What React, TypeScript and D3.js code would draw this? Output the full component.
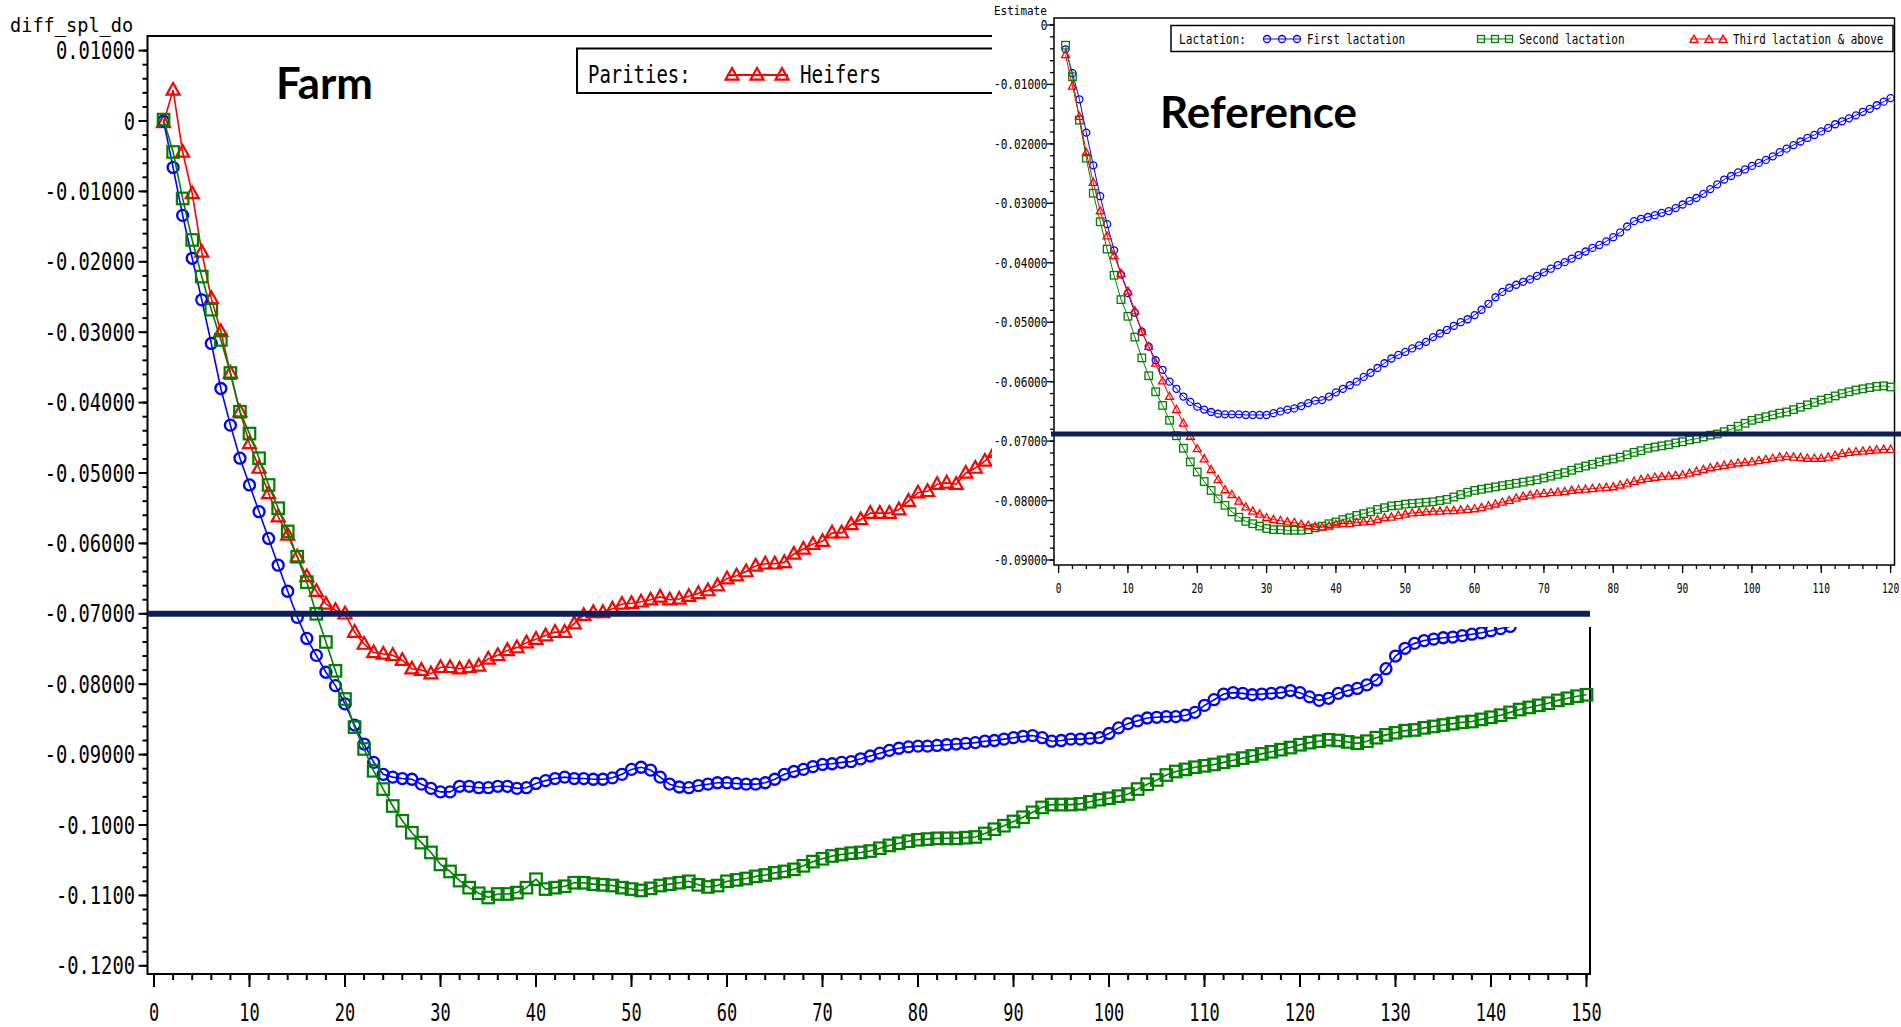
import React from "react";
import * as d3 from "d3";

// ---------- axis ticks / labels ----------
const FARM_Y_TICKS = [0.01, 0, -0.01, -0.02, -0.03, -0.04, -0.05, -0.06, -0.07, -0.08, -0.09, -0.1, -0.11, -0.12];
const FARM_Y_LABELS = ["0.01000", "0", "-0.01000", "-0.02000", "-0.03000", "-0.04000", "-0.05000", "-0.06000", "-0.07000", "-0.08000", "-0.09000", "-0.1000", "-0.1100", "-0.1200"];
const FARM_X_TICKS = [0, 10, 20, 30, 40, 50, 60, 70, 80, 90, 100, 110, 120, 130, 140, 150];
const REF_Y_TICKS = [0, -0.01, -0.02, -0.03, -0.04, -0.05, -0.06, -0.07, -0.08, -0.09];
const REF_Y_LABELS = ["0", "-0.01000", "-0.02000", "-0.03000", "-0.04000", "-0.05000", "-0.06000", "-0.07000", "-0.08000", "-0.09000"];
const REF_X_TICKS = [0, 10, 20, 30, 40, 50, 60, 70, 80, 90, 100, 110, 120];

const FARM_Y_TITLE = "diff_spl_do";
const REF_Y_TITLE = "Estimate";
const FARM_LEGEND_TITLE = "Parities:";
const FARM_LEGEND_ITEMS = ["Heifers"];
const REF_LEGEND_TITLE = "Lactation:";
const REF_LEGEND_ITEMS = ["First lactation", "Second lactation", "Third lactation & above"];

// annotation lines
const FARM_CUTOFF = -0.07;
const REF_CUTOFF = -0.0688;

// ---------- Farm series (day 1..n) ----------
const farmHeifers = [
  -0.0002, 0.0044, -0.0044, -0.0103, -0.0186, -0.0252, -0.0299, -0.0358, -0.0413, -0.0458,
  -0.0493, -0.0529, -0.0562, -0.0588, -0.0619, -0.0647, -0.0668, -0.0686, -0.0695, -0.0700,
  -0.0726, -0.0743, -0.0755, -0.0757, -0.0759, -0.0766, -0.0778, -0.0780, -0.0785, -0.0776,
  -0.0776, -0.0778, -0.0776, -0.0774, -0.0764, -0.0759, -0.0752, -0.0748, -0.0741, -0.0736,
  -0.0731, -0.0726, -0.0726, -0.0714, -0.0702, -0.0698, -0.0698, -0.0693, -0.0686, -0.0685,
  -0.0683, -0.0680, -0.0676, -0.0680, -0.0679, -0.0675, -0.0671, -0.0667, -0.0660, -0.0650,
  -0.0646, -0.0640, -0.0632, -0.0629, -0.0629, -0.0627, -0.0615, -0.0608, -0.0601, -0.0597,
  -0.0585, -0.0585, -0.0573, -0.0566, -0.0557, -0.0557, -0.0557, -0.0552, -0.0540, -0.0528,
  -0.0526, -0.0516, -0.0514, -0.0516, -0.0500, -0.0493, -0.0483, -0.0471,
];

const farmCircles = [
  0.0000, -0.0066, -0.0134, -0.0195, -0.0254, -0.0316, -0.0380, -0.0432, -0.0479, -0.0517,
  -0.0555, -0.0593, -0.0631, -0.0668, -0.0705, -0.0735, -0.0759, -0.0783, -0.0802, -0.0828,
  -0.0858, -0.0885, -0.0911, -0.0928, -0.0932, -0.0934, -0.0935, -0.0942, -0.0948, -0.0953,
  -0.0953, -0.0945, -0.0945, -0.0947, -0.0947, -0.0945, -0.0945, -0.0948, -0.0947, -0.0941,
  -0.0937, -0.0934, -0.0932, -0.0934, -0.0934, -0.0935, -0.0935, -0.0933, -0.0928, -0.0921,
  -0.0918, -0.0922, -0.0932, -0.0942, -0.0946, -0.0947, -0.0944, -0.0942, -0.0940, -0.0940,
  -0.0941, -0.0942, -0.0942, -0.0940, -0.0935, -0.0928, -0.0924, -0.0921, -0.0917, -0.0914,
  -0.0913, -0.0911, -0.0910, -0.0906, -0.0902, -0.0898, -0.0894, -0.0891, -0.0889, -0.0888,
  -0.0888, -0.0887, -0.0886, -0.0885, -0.0884, -0.0883, -0.0881, -0.0880, -0.0878, -0.0876,
  -0.0874, -0.0873, -0.0876, -0.0881, -0.0880, -0.0878, -0.0878, -0.0877, -0.0876, -0.0870,
  -0.0862, -0.0856, -0.0852, -0.0848, -0.0847, -0.0846, -0.0846, -0.0844, -0.0840, -0.0830,
  -0.0822, -0.0814, -0.0812, -0.0813, -0.0815, -0.0814, -0.0813, -0.0812, -0.0809, -0.0812,
  -0.0818, -0.0823, -0.0820, -0.0813, -0.0809, -0.0806, -0.0801, -0.0794, -0.0778, -0.0760,
  -0.0749, -0.0742, -0.0738, -0.0736, -0.0734, -0.0733, -0.0731, -0.0729, -0.0727, -0.0724,
  -0.0721, -0.0718,
];

const farmSquares = [
  0.0002, -0.0044, -0.0110, -0.0169, -0.0221, -0.0268, -0.0311, -0.0358, -0.0413, -0.0444,
  -0.0479, -0.0517, -0.0550, -0.0583, -0.0619, -0.0655, -0.0700, -0.0740, -0.0781, -0.0821,
  -0.0861, -0.0892, -0.0923, -0.0949, -0.0973, -0.0994, -0.1011, -0.1025, -0.1039, -0.1056,
  -0.1066, -0.1079, -0.1089, -0.1097, -0.1103, -0.1098, -0.1098, -0.1096, -0.1089, -0.1077,
  -0.1091, -0.1089, -0.1087, -0.1082, -0.1082, -0.1084, -0.1085, -0.1086, -0.1089, -0.1091,
  -0.1093, -0.1090, -0.1086, -0.1084, -0.1082, -0.1080, -0.1085, -0.1088, -0.1086, -0.1080,
  -0.1078, -0.1076, -0.1073, -0.1071, -0.1068, -0.1066, -0.1063, -0.1058, -0.1052, -0.1048,
  -0.1044, -0.1042, -0.1040, -0.1039, -0.1037, -0.1033, -0.1029, -0.1026, -0.1023, -0.1021,
  -0.1020, -0.1019, -0.1019, -0.1019, -0.1018, -0.1017, -0.1012, -0.1006, -0.1001, -0.0995,
  -0.0989, -0.0982, -0.0975, -0.0971, -0.0971, -0.0971, -0.0970, -0.0967, -0.0964, -0.0962,
  -0.0959, -0.0956, -0.0949, -0.0942, -0.0936, -0.0929, -0.0924, -0.0921, -0.0918, -0.0916,
  -0.0914, -0.0911, -0.0908, -0.0905, -0.0902, -0.0899, -0.0896, -0.0893, -0.0890, -0.0886,
  -0.0883, -0.0881, -0.0879, -0.0880, -0.0882, -0.0884, -0.0881, -0.0876, -0.0872, -0.0869,
  -0.0866, -0.0865, -0.0862, -0.0860, -0.0858, -0.0856, -0.0854, -0.0853, -0.0850, -0.0847,
  -0.0844, -0.0840, -0.0836, -0.0833, -0.0830, -0.0827, -0.0823, -0.0820, -0.0817, -0.0815,
];

// ---------- Reference series (day 1..120) ----------
const refFirst = [
  -0.0041, -0.0081, -0.0125, -0.0181, -0.0236, -0.0288, -0.0335, -0.0379, -0.0420, -0.0451,
  -0.0484, -0.0516, -0.0541, -0.0564, -0.0580, -0.0600, -0.0612, -0.0625, -0.0634, -0.0642,
  -0.0647, -0.0651, -0.0654, -0.0655, -0.0655, -0.0655, -0.0656, -0.0656, -0.0656, -0.0656,
  -0.0653, -0.0650, -0.0647, -0.0645, -0.0641, -0.0636, -0.0632, -0.0631, -0.0625, -0.0618,
  -0.0612, -0.0606, -0.0600, -0.0592, -0.0585, -0.0577, -0.0569, -0.0561, -0.0555, -0.0550,
  -0.0544, -0.0539, -0.0533, -0.0525, -0.0519, -0.0513, -0.0506, -0.0500, -0.0495, -0.0488,
  -0.0479, -0.0469, -0.0458, -0.0449, -0.0442, -0.0437, -0.0432, -0.0428, -0.0422, -0.0416,
  -0.0410, -0.0404, -0.0399, -0.0393, -0.0387, -0.0381, -0.0375, -0.0370, -0.0364, -0.0357,
  -0.0349, -0.0339, -0.0330, -0.0326, -0.0323, -0.0320, -0.0316, -0.0313, -0.0308, -0.0302,
  -0.0296, -0.0291, -0.0284, -0.0276, -0.0268, -0.0260, -0.0254, -0.0248, -0.0243, -0.0237,
  -0.0232, -0.0227, -0.0221, -0.0214, -0.0208, -0.0202, -0.0196, -0.0190, -0.0185, -0.0179,
  -0.0173, -0.0167, -0.0162, -0.0157, -0.0152, -0.0146, -0.0141, -0.0135, -0.0129, -0.0123,
];

const refSecond = [
  -0.0034, -0.0087, -0.0160, -0.0224, -0.0283, -0.0331, -0.0377, -0.0421, -0.0462, -0.0490,
  -0.0525, -0.0560, -0.0590, -0.0617, -0.0640, -0.0665, -0.0691, -0.0712, -0.0735, -0.0752,
  -0.0768, -0.0783, -0.0797, -0.0808, -0.0819, -0.0828, -0.0835, -0.0839, -0.0843, -0.0847,
  -0.0849, -0.0849, -0.0850, -0.0850, -0.0850, -0.0849, -0.0846, -0.0843, -0.0839, -0.0836,
  -0.0832, -0.0829, -0.0825, -0.0822, -0.0819, -0.0815, -0.0812, -0.0809, -0.0808, -0.0806,
  -0.0805, -0.0804, -0.0803, -0.0802, -0.0800, -0.0798, -0.0794, -0.0790, -0.0786, -0.0783,
  -0.0781, -0.0779, -0.0777, -0.0775, -0.0773, -0.0771, -0.0769, -0.0767, -0.0765, -0.0762,
  -0.0759, -0.0756, -0.0753, -0.0749, -0.0745, -0.0742, -0.0739, -0.0735, -0.0732, -0.0730,
  -0.0727, -0.0723, -0.0719, -0.0716, -0.0712, -0.0710, -0.0708, -0.0706, -0.0703, -0.0701,
  -0.0698, -0.0696, -0.0693, -0.0690, -0.0688, -0.0684, -0.0680, -0.0675, -0.0670, -0.0665,
  -0.0662, -0.0659, -0.0656, -0.0653, -0.0651, -0.0647, -0.0643, -0.0639, -0.0635, -0.0631,
  -0.0628, -0.0624, -0.0620, -0.0617, -0.0614, -0.0612, -0.0610, -0.0608, -0.0607, -0.0609,
];

const refThird = [
  -0.0050, -0.0103, -0.0154, -0.0215, -0.0265, -0.0313, -0.0355, -0.0388, -0.0418, -0.0448,
  -0.0481, -0.0516, -0.0541, -0.0569, -0.0599, -0.0625, -0.0647, -0.0670, -0.0692, -0.0713,
  -0.0730, -0.0748, -0.0765, -0.0782, -0.0790, -0.0801, -0.0811, -0.0818, -0.0823, -0.0829,
  -0.0832, -0.0834, -0.0836, -0.0837, -0.0840, -0.0842, -0.0844, -0.0845, -0.0843, -0.0840,
  -0.0839, -0.0839, -0.0837, -0.0836, -0.0835, -0.0832, -0.0829, -0.0828, -0.0825, -0.0823,
  -0.0821, -0.0820, -0.0819, -0.0818, -0.0818, -0.0817, -0.0817, -0.0816, -0.0815, -0.0814,
  -0.0812, -0.0809, -0.0806, -0.0803, -0.0800, -0.0796, -0.0793, -0.0791, -0.0789, -0.0788,
  -0.0787, -0.0786, -0.0785, -0.0783, -0.0782, -0.0781, -0.0780, -0.0779, -0.0778, -0.0777,
  -0.0774, -0.0771, -0.0768, -0.0765, -0.0763, -0.0761, -0.0760, -0.0759, -0.0758, -0.0757,
  -0.0754, -0.0751, -0.0748, -0.0745, -0.0743, -0.0741, -0.0739, -0.0737, -0.0736, -0.0735,
  -0.0733, -0.0731, -0.0729, -0.0727, -0.0726, -0.0727, -0.0728, -0.0729, -0.0729, -0.0729,
  -0.0727, -0.0724, -0.0721, -0.0719, -0.0718, -0.0717, -0.0716, -0.0715, -0.0714, -0.0714,
];

const BLUE = "#0000ff";
const GREEN = "#008000";
const RED = "#ff0000";
const NAVY = "#0c1f58";
const SAS_FONT = "'DejaVu Sans Mono', monospace";
const BOLD_FONT = "Lato, 'Open Sans', sans-serif";
const MONO_ADV = 0.602; // DejaVu Sans Mono advance width per em

type Shape = "circle" | "square" | "triangle";

function Marker({ shape, x, y, s, color, sw }: { shape: Shape; x: number; y: number; s: number; color: string; sw: number }) {
  if (shape === "circle") return <circle cx={x} cy={y} r={s / 2} fill="none" stroke={color} strokeWidth={sw} />;
  if (shape === "square") return <rect x={x - s / 2} y={y - s / 2} width={s} height={s} fill="none" stroke={color} strokeWidth={sw} />;
  const h = s * 0.9;
  return (
    <path
      d={`M${x},${y - h * 0.6}L${x + s / 2},${y + h * 0.4}L${x - s / 2},${y + h * 0.4}Z`}
      fill="none"
      stroke={color}
      strokeWidth={sw}
    />
  );
}

function Series({ values, sx, sy, shape, color, size, sw, lw }: any) {
  const pts: [number, number][] = values.map((v: number, i: number) => [sx(i + 1), sy(v)]);
  const line = d3.line();
  return (
    <g>
      <path d={line(pts) || ""} fill="none" stroke={color} strokeWidth={lw} />
      {pts.map((p, i) => (
        <Marker key={i} shape={shape} x={p[0]} y={p[1]} s={size} color={color} sw={sw} />
      ))}
    </g>
  );
}

// narrow "SAS-like" text: monospace font squeezed horizontally
function SasText({ x, y, text, size, glyph, anchor = "start", fill = "#000" }: any) {
  const sx = glyph / (MONO_ADV * size);
  return (
    <text
      transform={`translate(${x},${y}) scale(${sx},1)`}
      fontFamily={SAS_FONT}
      fontSize={size}
      textAnchor={anchor}
      fill={fill}
    >
      {text}
    </text>
  );
}

export default function App() {
  // Farm chart scales
  const fx = d3.scaleLinear().domain([0, 150]).range([154, 1586.5]);
  const fy = d3.scaleLinear().domain([0, -0.12]).range([121, 965.8]);
  const F = { left: 147.5, right: 1590, top: 36, bottom: 974 };

  // Reference chart scales
  const rx = d3.scaleLinear().domain([0, 120]).range([1058.6, 1890.6]);
  const ry = d3.scaleLinear().domain([0, -0.09]).range([25, 560]);
  const R = { left: 1054, right: 1894.5, top: 18, bottom: 565 };

  const farmMinorY = d3.range(0, 67).map((i) => 0.01 - i * 0.002).filter((v) => v >= -0.1201);
  const farmMinorX = d3.range(0, 151, 2);
  const refMinorY = d3.range(0, 46).map((i) => -i * 0.002).filter((v) => v >= -0.0901);
  const refMinorX = d3.range(0, 121, 2);

  return (
    <div style={{ position: "absolute", left: 0, top: 0, width: 1901, height: 1027, overflow: "hidden", background: "#fff" }}>
      <svg width={1901} height={1027} style={{ display: "block" }}>
        <rect x={0} y={0} width={1901} height={1027} fill="#fff" />

        {/* ================= FARM CHART ================= */}
        <g>
          <rect x={F.left} y={F.top} width={F.right - F.left} height={F.bottom - F.top} fill="none" stroke="#000" strokeWidth={2} />
          {farmMinorY.map((v, i) => (
            <line key={"fmy" + i} x1={F.left - 5} x2={F.left} y1={fy(v)} y2={fy(v)} stroke="#000" strokeWidth={2} />
          ))}
          {FARM_Y_TICKS.map((v, i) => (
            <g key={"fy" + i}>
              <line x1={F.left - 9} x2={F.left} y1={fy(v)} y2={fy(v)} stroke="#000" strokeWidth={2} />
              <SasText x={135} y={fy(v) + 8.5} text={FARM_Y_LABELS[i]} size={24} glyph={11.3} anchor="end" />
            </g>
          ))}
          {farmMinorX.map((v, i) => (
            <line key={"fmx" + i} x1={fx(v)} x2={fx(v)} y1={F.bottom} y2={F.bottom + 6} stroke="#000" strokeWidth={2} />
          ))}
          {FARM_X_TICKS.map((v, i) => (
            <g key={"fx" + i}>
              <line x1={fx(v)} x2={fx(v)} y1={F.bottom} y2={F.bottom + 13} stroke="#000" strokeWidth={2} />
              <SasText x={fx(v)} y={1021} text={String(v)} size={24} glyph={10.2} anchor="middle" />
            </g>
          ))}
          <SasText x={10} y={32} text={FARM_Y_TITLE} size={19} glyph={11.2} />

          {/* legend */}
          <rect x={577} y={48.5} width={440} height={44.5} fill="#fff" stroke="#000" strokeWidth={2} />
          <SasText x={588} y={83} text={FARM_LEGEND_TITLE} size={24} glyph={11.4} />
          <line x1={727} x2={788} y1={75} y2={75} stroke={RED} strokeWidth={1.8} />
          {[732, 757, 782].map((x, i) => (
            <Marker key={"flm" + i} shape="triangle" x={x} y={75} s={13} color={RED} sw={2.2} />
          ))}
          <SasText x={800} y={83} text={FARM_LEGEND_ITEMS[0]} size={24} glyph={11.6} />

          {/* series */}
          <Series values={farmHeifers} sx={fx} sy={fy} shape="triangle" color={RED} size={13} sw={2.2} lw={1.6} />
          <Series values={farmCircles} sx={fx} sy={fy} shape="circle" color={BLUE} size={11} sw={2.3} lw={1.6} />
          <Series values={farmSquares} sx={fx} sy={fy} shape="square" color={GREEN} size={11.5} sw={2.2} lw={1.6} />

          <text x={276} y={99} fontFamily={BOLD_FONT} fontWeight={700} fontSize={44} textLength={97} lengthAdjust="spacingAndGlyphs">
            Farm
          </text>
        </g>

        {/* ================= REFERENCE CHART (inset) ================= */}
        <g>
          <rect x={992} y={0} width={909} height={627} fill="#fff" />
          <rect x={R.left} y={R.top} width={R.right - R.left} height={R.bottom - R.top} fill="none" stroke="#000" strokeWidth={1.5} />
          {refMinorY.map((v, i) => (
            <line key={"rmy" + i} x1={R.left - 4} x2={R.left} y1={ry(v)} y2={ry(v)} stroke="#000" strokeWidth={1.3} />
          ))}
          {REF_Y_TICKS.map((v, i) => (
            <g key={"ry" + i}>
              <line x1={R.left - 7} x2={R.left} y1={ry(v)} y2={ry(v)} stroke="#000" strokeWidth={1.3} />
              <SasText x={1047.5} y={ry(v) + 5} text={REF_Y_LABELS[i]} size={14} glyph={6.7} anchor="end" />
            </g>
          ))}
          {refMinorX.map((v, i) => (
            <line key={"rmx" + i} x1={rx(v)} x2={rx(v)} y1={R.bottom} y2={R.bottom + 4} stroke="#000" strokeWidth={1.3} />
          ))}
          {REF_X_TICKS.map((v, i) => (
            <g key={"rx" + i}>
              <line x1={rx(v)} x2={rx(v)} y1={R.bottom} y2={R.bottom + 8} stroke="#000" strokeWidth={1.3} />
              <SasText x={rx(v)} y={593} text={String(v)} size={14} glyph={5.8} anchor="middle" />
            </g>
          ))}
          <SasText x={994} y={15} text={REF_Y_TITLE} size={13} glyph={6.6} />

          {/* legend */}
          <rect x={1171} y={25.5} width={722} height={26} fill="#fff" stroke="#000" strokeWidth={1.5} />
          <SasText x={1179} y={43.5} text={REF_LEGEND_TITLE} size={14} glyph={6.7} />
          <line x1={1263} x2={1301} y1={39} y2={39} stroke={BLUE} strokeWidth={1} />
          {[1267, 1282, 1297].map((x, i) => (
            <Marker key={"rl1" + i} shape="circle" x={x} y={39} s={7} color={BLUE} sw={1.3} />
          ))}
          <SasText x={1307} y={43.5} text={REF_LEGEND_ITEMS[0]} size={14} glyph={6.55} />
          <line x1={1477} x2={1512} y1={39} y2={39} stroke={GREEN} strokeWidth={1} />
          {[1481, 1495, 1509].map((x, i) => (
            <Marker key={"rl2" + i} shape="square" x={x} y={39} s={7} color={GREEN} sw={1.3} />
          ))}
          <SasText x={1519} y={43.5} text={REF_LEGEND_ITEMS[1]} size={14} glyph={6.6} />
          <line x1={1690} x2={1727} y1={39} y2={39} stroke={RED} strokeWidth={1} />
          {[1694, 1709, 1723].map((x, i) => (
            <Marker key={"rl3" + i} shape="triangle" x={x} y={39.5} s={8} color={RED} sw={1.3} />
          ))}
          <SasText x={1733} y={43.5} text={REF_LEGEND_ITEMS[2]} size={14} glyph={6.55} />

          <Series values={refFirst} sx={rx} sy={ry} shape="circle" color={BLUE} size={7} sw={1.3} lw={1} />
          <Series values={refSecond} sx={rx} sy={ry} shape="square" color={GREEN} size={7.5} sw={1.3} lw={1} />
          <Series values={refThird} sx={rx} sy={ry} shape="triangle" color={RED} size={8} sw={1.3} lw={1} />

          <text x={1160} y={128} fontFamily={BOLD_FONT} fontWeight={700} fontSize={44} textLength={197} lengthAdjust="spacingAndGlyphs">
            Reference
          </text>
        </g>

        {/* ================= annotation lines ================= */}
        <line x1={F.left} x2={F.right} y1={fy(FARM_CUTOFF)} y2={fy(FARM_CUTOFF)} stroke={NAVY} strokeWidth={6} />
        <line x1={1051} x2={1901} y1={ry(REF_CUTOFF)} y2={ry(REF_CUTOFF)} stroke={NAVY} strokeWidth={5} />
      </svg>
    </div>
  );
}
